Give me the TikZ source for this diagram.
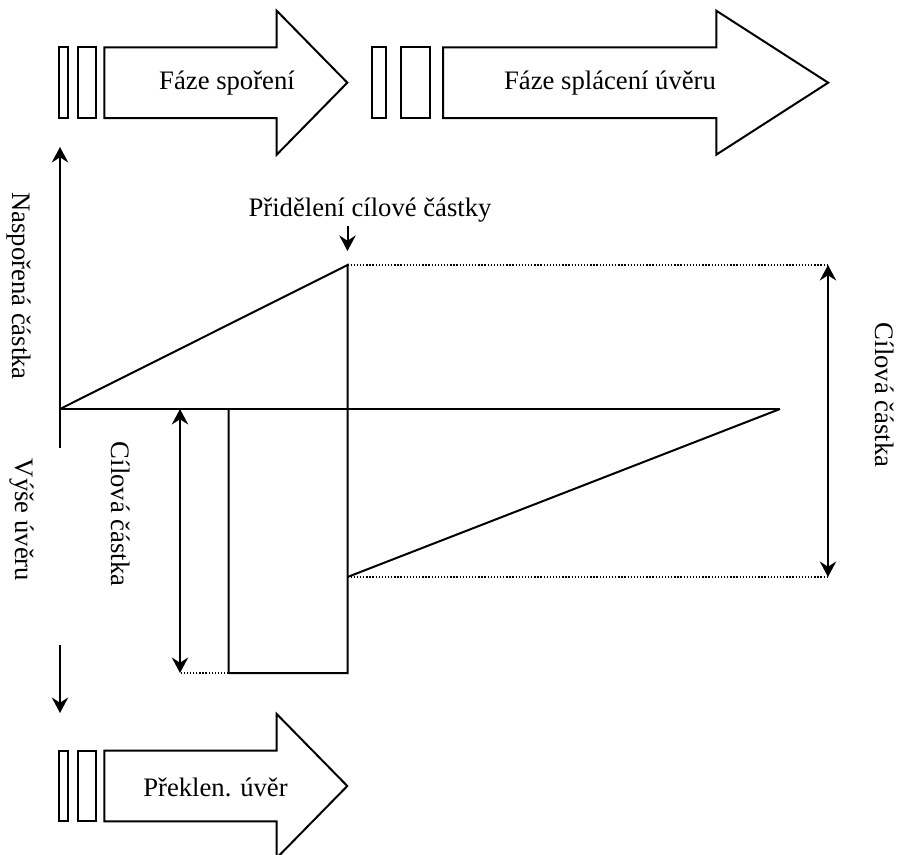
\documentclass[tikz,border=0pt]{standalone}
\usepackage{fontspec}
\setmainfont{Liberation Serif}
\usetikzlibrary{arrows.meta,positioning}
\tikzset{
  >={Stealth[length=7pt,width=7.4pt,inset=2.4pt]},
  line/.style={line width=0.9pt},
  guide/.style={line width=0.6pt,dash pattern=on 0.6pt off 0.8pt},
  dim/.style={<->,line width=0.9pt},
  phase label/.style={font=\fontsize{12}{14}\selectfont,inner sep=0pt},
  axis label/.style={font=\fontsize{12}{14}\selectfont,inner sep=0pt,rotate=-90},
  % phase arrow: two stripes and a block arrow
  pics/phase/.style={code={
    \draw[line] (0,-35.3) rectangle (9,35.3);
    \draw[line] (18.4,-35.3) rectangle (36.7,35.3);
    \draw[line,line join=miter] (45,-35.3) -- (217.4,-35.3) -- (217.4,-72) -- (288,0)
      -- (217.4,72) -- (217.4,35.3) -- (45,35.3) -- cycle;
  }},
}
\begin{document}
\begin{tikzpicture}[x=0.45pt,y=-0.45pt]
  \useasboundingbox (0,0) rectangle (898,855);
  % phases
  \pic at (59.3,82.7) {phase};
  \pic[xscale=1.585] at (371.7,82.7) {phase};
  \pic at (59.3,786) {phase};
  \node[phase label] (save) at (227,83.5) {Fáze spoření};
  \node[phase label] (repay) at (610,83.5) {Fáze splácení úvěru};
  \node[phase label] (bridge) at (215.5,787) {Překlen. úvěr};
  % chart points
  \coordinate (o) at (60,409);
  \coordinate (ytop) at (60,147);
  \coordinate (ystub) at (60,448);
  \coordinate (ydown) at (60,645);
  \coordinate (ybottom) at (60,713);
  \coordinate (peak) at (347.5,265);
  \coordinate (low) at (347.5,577);
  \coordinate (base) at (347.5,673);
  \coordinate (end) at (780,409);
  \coordinate (rtop) at (228.5,409);
  \coordinate (rbot) at (228.5,673);
  \coordinate (dimr top) at (828,265);
  \coordinate (dimr bot) at (828,577);
  \coordinate (diml top) at (180,409);
  \coordinate (diml bot) at (180,673);
  \coordinate (grant top) at (347.5,226);
  \coordinate (grant tip) at (347.5,251);
  % axes
  \draw[->,line] (ystub) -- (ytop);
  \draw[->,line] (ydown) -- (ybottom);
  \draw[line] (o) -- (end);
  % saving and loan
  \draw[line] (o) -- (peak) -- (base) -- (rbot) -- (rtop);
  \draw[line] (low) -- (end);
  \draw[guide] (peak) -- (dimr top);
  \draw[guide] (low) -- (dimr bot);
  \draw[guide] (rbot) -- (diml bot);
  \draw[dim] (dimr top) -- (dimr bot);
  \draw[dim] (diml top) -- (diml bot);
  \draw[->,line] (grant top) -- (grant tip);
  % labels
  \node[phase label] (grant) at (370,210) {Přidělení cílové částky};
  \node[axis label] (saved) at (19,286) {Naspořená částka};
  \node[axis label] (loan) at (22,520) {Výše úvěru};
  \node[axis label] (target l) at (121,514) {Cílová částka};
  \node[axis label] (target r) at (885,395) {Cílová částka};
\end{tikzpicture}
\end{document}
